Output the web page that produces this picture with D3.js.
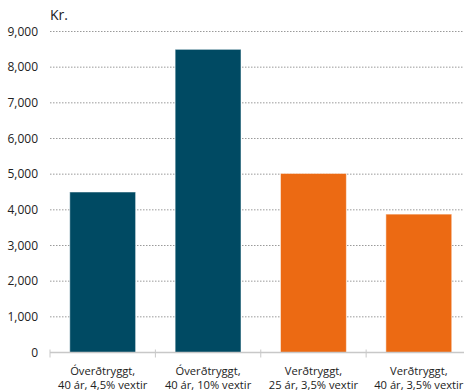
<!DOCTYPE html>
<html>
<head>
<meta charset="utf-8">
<script src="https://cdn.jsdelivr.net/npm/d3@7"></script>
<style>
  body { margin: 0; background: #fff; }
  text { font-family: "Open Sans", "Noto Sans", sans-serif; fill: #222; }
</style>
</head>
<body>
<script>
// data
var categories = [
  ["Óverðtryggt,", "40 ár, 4,5% vextir"],
  ["Óverðtryggt,", "40 ár, 10% vextir"],
  ["Verðtryggt,", "25 ár, 3,5% vextir"],
  ["Verðtryggt,", "40 ár, 3,5% vextir"]
];
var values = [4500, 8500, 5020, 3880];
var barColors = ["#004a63", "#004a63", "#ec6a13", "#ec6a13"];
var yTicks = [0, 1000, 2000, 3000, 4000, 5000, 6000, 7000, 8000, 9000];
var unitLabel = "Kr.";

var W = 464, H = 392;
var svg = d3.select("body").append("svg").attr("width", W).attr("height", H);

var x = d3.scaleBand().domain(d3.range(categories.length))
  .range([50, 471.5]).paddingInner(0.375).paddingOuter(0.1875);
var y = d3.scaleLinear().domain([0, 9000]).range([352.5, 31.5]);

// gridlines
svg.selectAll("line.grid")
  .data(yTicks.filter(function (d) { return d > 0; }))
  .enter().append("line")
    .attr("class", "grid")
    .attr("x1", 50).attr("x2", W)
    .attr("y1", function (d) { return y(d); })
    .attr("y2", function (d) { return y(d); })
    .attr("stroke", "#9a9a9a")
    .attr("stroke-width", 1)
    .attr("stroke-dasharray", "1.5,1.5");

// y tick labels
svg.selectAll("text.ytick")
  .data(yTicks)
  .enter().append("text")
    .attr("class", "ytick")
    .attr("x", 38)
    .attr("y", function (d) { return y(d); })
    .attr("dy", "0.35em")
    .attr("text-anchor", "end")
    .attr("font-size", 12)
    .text(function (d) { return d3.format(",")(d); });

svg.append("text")
  .attr("x", 50).attr("y", 20)
  .attr("font-size", 14)
  .text(unitLabel);

// bars
svg.selectAll("rect.bar")
  .data(values)
  .enter().append("rect")
    .attr("class", "bar")
    .attr("x", function (d, i) { return x(i); })
    .attr("width", x.bandwidth())
    .attr("y", function (d) { return y(d); })
    .attr("height", function (d) { return y(0) - y(d); })
    .attr("fill", function (d, i) { return barColors[i]; })
    .attr("stroke", "#ffffff")
    .attr("stroke-opacity", 0.5)
    .attr("stroke-width", 1);

// x axis line and ticks
svg.append("line")
  .attr("x1", 50).attr("x2", W)
  .attr("y1", y(0)).attr("y2", y(0))
  .attr("stroke", "#c8c8c8").attr("stroke-width", 1.5);

var step = x.step();
var bounds = d3.range(categories.length + 1).map(function (i) { return 50 + i * step; });
svg.selectAll("line.xtick")
  .data(bounds)
  .enter().append("line")
    .attr("class", "xtick")
    .attr("x1", function (d) { return d; })
    .attr("x2", function (d) { return d; })
    .attr("y1", y(0) - 3).attr("y2", y(0) + 5)
    .attr("stroke", "#c8c8c8").attr("stroke-width", 1);

// category labels
var lab = svg.selectAll("text.xlab")
  .data(categories)
  .enter().append("text")
    .attr("class", "xlab")
    .attr("text-anchor", "middle")
    .attr("font-size", 11.2);
lab.selectAll("tspan")
  .data(function (d, i) { return d.map(function (s) { return { s: s, i: i }; }); })
  .enter().append("tspan")
    .attr("x", function (d) { return x(d.i) + x.bandwidth() / 2; })
    .attr("y", function (d, j) { return 375 + j * 13.5; })
    .text(function (d) { return d.s; });
</script>
</body>
</html>
